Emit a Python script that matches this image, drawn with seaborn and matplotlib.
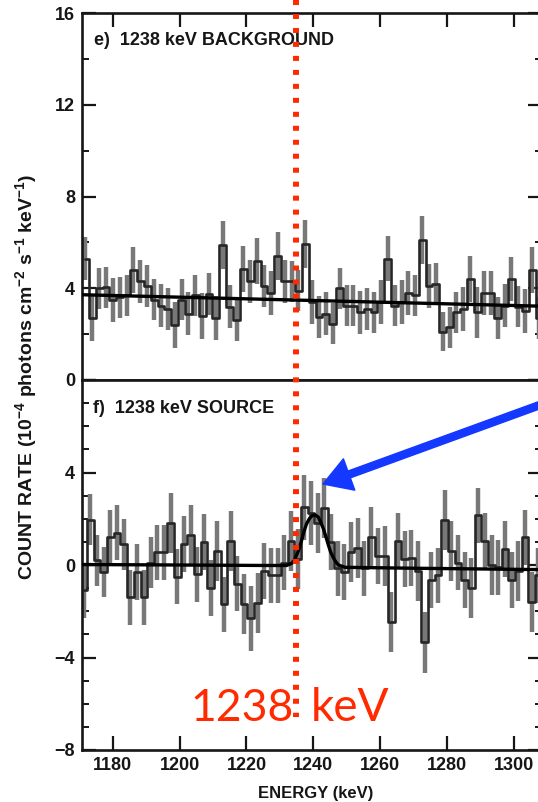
import numpy as np
import matplotlib
matplotlib.use("Agg")
import matplotlib.pyplot as plt
import matplotlib.transforms as mtransforms
from matplotlib.lines import Line2D
from matplotlib.patches import FancyArrowPatch, ArrowStyle
from matplotlib.ticker import MultipleLocator, NullLocator
import seaborn as sns

# ---------------- data ----------------
bkg_counts = [5.3, 2.7, 4.0, 4.05, 3.5, 3.6, 3.7, 4.8, 4.3, 4.1,
              3.5, 3.25, 3.1, 2.4, 3.5, 2.9, 3.7, 2.8, 3.75, 2.7,
              5.9, 3.2, 2.6, 4.85, 4.3, 5.2, 4.1, 3.8, 5.4, 4.3,
              4.3, 3.9, 5.95, 3.4, 2.75, 2.9, 2.45, 4.0, 3.25, 3.25,
              2.95, 3.1, 2.95, 3.4, 5.3, 3.25, 3.4, 3.8, 3.7, 6.1,
              4.1, 4.2, 2.1, 2.3, 2.95, 3.1, 4.4, 2.95, 3.8, 3.8,
              2.7, 3.25, 4.4, 3.2, 3.0, 4.8, 2.7]
bkg_errors = [0.95, 1.0, 0.9, 0.9, 0.95, 0.9, 0.9, 1.0, 0.95, 0.9,
              0.9, 0.95, 0.9, 1.0, 0.9, 0.95, 0.9, 1.0, 0.9, 0.95,
              1.05, 0.95, 0.9, 1.0, 0.95, 1.0, 0.9, 0.95, 1.05, 0.95,
              0.9, 0.9, 1.05, 0.95, 0.9, 0.95, 0.9, 0.9, 0.9, 0.9,
              0.95, 0.9, 0.9, 0.95, 1.0, 0.9, 0.95, 0.95, 0.9, 1.05,
              0.95, 0.9, 0.85, 0.9, 0.9, 0.95, 1.0, 1.1, 0.95, 0.95,
              0.9, 0.95, 0.95, 0.9, 0.95, 1.0, 0.9]
bkg_start_kev, bkg_bin_kev = 1171.8, 2.056

src_counts = [-1.1, 1.95, 0.2, -0.3, 1.2, 1.4, 0.9, -1.4, -0.3, -1.4,
              0.1, 0.55, 0.55, 1.8, -0.5, 0.9, 1.3, -0.4, 1.0, -1.0,
              0.6, -1.7, 1.05,
              -0.8, -1.7, -2.3, -1.65, -0.25, -0.45, -0.45, 0.1, 1.05, 0.25,
              2.5, 2.25, 1.8, 2.45, 1.0, -0.15, -0.3, 0.55, 0.75, -0.15,
              1.2, 0.4,
              0.4, -2.45, 1.05, 0.25, 0.3, -0.25, -3.35, -0.65, -0.45, 1.95,
              0.6, 0.1, -0.65, -1.0, 2.15, 1.05, 0.0, -0.1, 0.7, -0.65,
              -0.25, 1.2, -1.6, -0.45]
src_errors = [1.2, 1.1, 1.1, 1.1, 1.2, 1.2, 1.1, 1.2, 1.2, 1.2,
              1.1, 1.2, 1.2, 1.3, 1.2, 1.2, 1.3, 1.2, 1.2, 1.2,
              1.3, 1.2, 1.3, 1.2, 1.3, 1.4, 1.3, 1.2, 1.2, 1.2,
              1.2, 1.3, 1.3, 1.4, 1.4, 1.3, 1.3, 1.2, 1.2, 1.2,
              1.3, 1.3, 1.2, 1.3, 1.2, 1.3, 1.3, 1.2, 1.2, 1.2,
              1.3, 1.3, 1.2, 1.2, 1.3, 1.3, 1.2, 1.2, 1.3, 1.2,
              1.2, 1.3, 1.2, 1.2, 1.2, 1.3, 1.2, 1.3, 1.2]
src_start_kev, src_bin_kev = 1171.3, 2.0

bkg_fit_kev = [1170.8, 1308.4]
bkg_fit_val = [3.72, 3.22]

src_fit_kev = [1170.8, 1200, 1225, 1232.0, 1233.5, 1234.3, 1235.0, 1235.8, 1236.5,
               1237.2, 1238.0, 1238.8, 1239.5, 1240.5, 1241.5, 1242.2, 1243.0,
               1243.8, 1244.5, 1245.2, 1246.0, 1246.8, 1247.5, 1249.5, 1270, 1308.4]
src_fit_val = [0.02, 0.0, -0.02, -0.02, 0.07, 0.2, 0.43, 0.72, 1.07,
               1.45, 1.79, 2.0, 2.12, 2.17, 2.07, 1.85, 1.57,
               1.2, 0.86, 0.55, 0.31, 0.12, 0.0, -0.1, -0.14, -0.2]

line_kev = 1234.7
line_label_num = "1238"
line_label_unit = "keV"
x_ticks = [1180, 1200, 1220, 1240, 1260, 1280, 1300]
top_yticks = [0, 4, 8, 12, 16]
bot_yticks = [-8, -4, 0, 4, 8]
bot_ylabels = ["\u22128", "\u22124", "0", "4", ""]

bkg_kev = bkg_start_kev + bkg_bin_kev * np.arange(len(bkg_counts))
src_kev = src_start_kev + src_bin_kev * np.arange(len(src_counts))

# ---------------- figure ----------------
sns.set_theme(style="ticks")
plt.rcParams["font.family"] = ["Liberation Sans", "DejaVu Sans"]
plt.rcParams["mathtext.default"] = "regular"

W, H = 538, 802
fig = plt.figure(figsize=(W / 100, H / 100), dpi=100)


def px_axes(l, t, r, b):
    return fig.add_axes([l / W, 1 - b / H, (r - l) / W, (b - t) / H])


ax1 = px_axes(82, 13.3, 542, 380)
ax2 = px_axes(82, 380, 542, 750)

ink = "#161616"
for ax, e, v, err in [(ax1, bkg_kev, bkg_counts, bkg_errors),
                      (ax2, src_kev, src_counts, src_errors)]:
    ax.errorbar(e, v, yerr=err, fmt="none", ecolor="#787878",
                elinewidth=3.2, capsize=0, zorder=2)
    sns.lineplot(x=e, y=v, ax=ax, drawstyle="steps-mid", color="#262626",
                 lw=1.9, estimator=None, zorder=3)

sns.lineplot(x=bkg_fit_kev, y=bkg_fit_val, ax=ax1, color="black", lw=2.4,
             estimator=None, zorder=4)
sns.lineplot(x=src_fit_kev, y=src_fit_val, ax=ax2, color="black", lw=2.4,
             estimator=None, zorder=4)

for ax in (ax1, ax2):
    ax.set_xlim(1170.8, 1308.4)
    ax.set_xlabel("")
    ax.set_ylabel("")
    ax.xaxis.set_major_locator(MultipleLocator(20))
    ax.xaxis.set_minor_locator(NullLocator())
    for s in ax.spines.values():
        s.set_visible(True)
        s.set_linewidth(1.9)
        s.set_color(ink)
    ax.tick_params(which="major", direction="in", length=10, width=1.6,
                   color=ink, left=True, right=True, labelsize=13, pad=5)
    ax.tick_params(which="minor", direction="in", length=5, width=1.4,
                   color=ink, left=True, right=True)
    ax.set_facecolor("white")

ax1.set_ylim(0, 16)
ax1.set_yticks(top_yticks)
ax1.yaxis.set_minor_locator(MultipleLocator(2))
ax1.tick_params(axis="x", top=True, bottom=False, labelbottom=False, labeltop=False)

ax2.set_ylim(-8, 8)
ax2.set_yticks(bot_yticks, labels=bot_ylabels)
ax2.yaxis.set_minor_locator(MultipleLocator(1))
ax2.set_xticks(x_ticks)
ax2.tick_params(axis="x", top=False, bottom=True, labelbottom=True, pad=5)

for ax in (ax1, ax2):
    for lab in ax.get_xticklabels() + ax.get_yticklabels():
        lab.set_fontweight("bold")
        lab.set_color(ink)

fig.text(316 / W, 1 - 798 / H, "ENERGY (keV)", fontsize=12, fontweight="bold",
         color=ink, ha="center", va="baseline")

fig.text(26 / W, 1 - 377 / H,
         "COUNT RATE (10$^{-4}$ photons cm$^{-2}$ s$^{-1}$ keV$^{-1}$)",
         rotation=90, ha="center", va="center", fontsize=14,
         fontweight="bold", color=ink)

fig.text(94 / W, 1 - 45 / H, "e)  1238 keV BACKGROUND", fontsize=13,
         fontweight="bold", color=ink, ha="left", va="baseline")
fig.text(93 / W, 1 - 413 / H, "f)  1238 keV SOURCE", fontsize=13,
         fontweight="bold", color=ink, ha="left", va="baseline")

# red dotted marker line
blend = mtransforms.blended_transform_factory(ax2.transData, fig.transFigure)
red = "#FF2A00"
fig.add_artist(Line2D([line_kev, line_kev], [1.0, 1 - 717 / H], transform=blend,
                      color=red, lw=4.3, linestyle=(0, (0.84, 1.5)),
                      dash_capstyle="butt", zorder=10))
fig.text(190 / W, 1 - 721 / H, line_label_num, color=red, fontsize=32,
         family=["Lato", "DejaVu Sans"], ha="left", va="baseline", zorder=11)
fig.text(311 / W, 1 - 721 / H, line_label_unit, color=red, fontsize=33,
         family=["Lato", "DejaVu Sans"], ha="left", va="baseline", zorder=11)

# blue arrow
arrow = FancyArrowPatch(posA=(560, H - 397.7), posB=(323, H - 484),
                        transform=mtransforms.IdentityTransform(),
                        arrowstyle=ArrowStyle.Simple(head_length=20, head_width=24,
                                                     tail_width=5.2),
                        mutation_scale=1, color="#1438FF", shrinkA=0, shrinkB=0,
                        zorder=12)
fig.add_artist(arrow)

fig.savefig("out.png", dpi=100)
